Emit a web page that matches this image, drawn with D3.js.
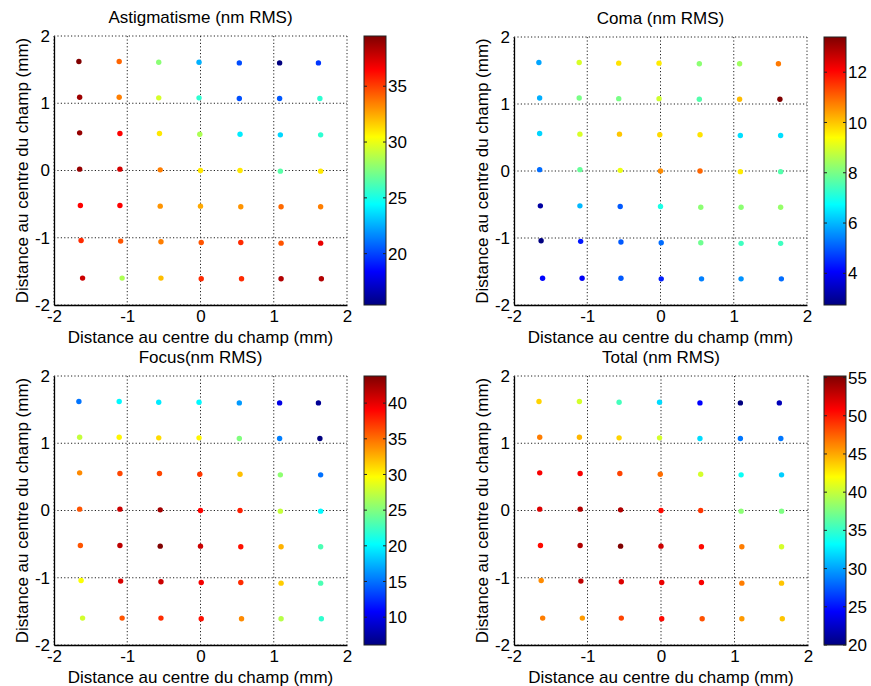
<!DOCTYPE html>
<html><head><meta charset="utf-8">
<script src="https://cdn.jsdelivr.net/npm/d3@7"></script>
<style>body{margin:0;background:#fff}svg{display:block}text{font-family:"Liberation Sans",Arial,sans-serif;fill:#000}</style>
</head><body><svg id="c" width="871" height="686"></svg>
<script>
// Field positions (mm), 7 rows (top->bottom) x 7 columns (left->right)
const gridX = [
  [-1.66,-1.11,-0.57,-0.02,0.53,1.08,1.61],
  [-1.65,-1.11,-0.57,-0.02,0.53,1.08,1.63],
  [-1.65,-1.10,-0.56,-0.01,0.54,1.09,1.64],
  [-1.65,-1.10,-0.55,0.00,0.54,1.09,1.64],
  [-1.64,-1.10,-0.55,0.00,0.55,1.10,1.64],
  [-1.63,-1.09,-0.54,0.01,0.55,1.10,1.64],
  [-1.61,-1.07,-0.54,0.01,0.56,1.10,1.65]
];
const gridY = [
  [1.62,1.62,1.61,1.61,1.60,1.60,1.60],
  [1.09,1.09,1.08,1.08,1.07,1.07,1.07],
  [0.56,0.55,0.55,0.54,0.54,0.53,0.53],
  [0.02,0.02,0.01,0.00,0.00,-0.01,-0.01],
  [-0.52,-0.52,-0.53,-0.53,-0.54,-0.54,-0.54],
  [-1.04,-1.05,-1.06,-1.07,-1.07,-1.08,-1.08],
  [-1.60,-1.60,-1.60,-1.61,-1.61,-1.61,-1.61]
];
const astigmatisme = [
  [39.5,34.1,27.7,22.6,20.2,15.4,19.7],
  [38.8,33.5,29.5,25.5,20.3,20.5,25.5],
  [39.0,36.5,31.0,28.5,24.0,23.5,25.5],
  [39.0,37.5,33.5,31.0,31.0,26.5,31.0],
  [36.5,36.5,33.0,32.5,33.0,34.0,33.5],
  [35.5,34.5,33.5,34.5,35.5,34.5,37.0],
  [37.7,28.5,32.0,35.5,35.5,38.3,38.3]
];
const coma = [
  [5.8,9.0,9.7,9.6,8.2,8.4,10.8],
  [5.9,8.0,8.0,8.9,7.6,10.1,13.4],
  [6.3,9.0,10.0,9.8,9.7,6.4,6.4],
  [5.2,7.8,9.2,10.6,11.0,9.6,7.6],
  [3.1,6.0,5.0,7.0,8.2,8.2,8.3],
  [2.74,4.3,5.0,5.2,7.9,7.4,7.4],
  [4.1,4.0,5.0,4.4,5.4,5.6,5.2]
];
const focus = [
  [15.1,20.0,19.5,20.0,16.5,9.9,6.9],
  [27.5,30.0,31.0,30.0,25.0,15.5,6.1],
  [34.0,36.5,36.5,37.0,32.0,25.5,15.0],
  [36.0,41.0,42.5,39.0,38.0,27.5,20.0],
  [36.0,41.5,43.8,41.0,38.5,32.5,23.0],
  [29.5,40.5,41.0,39.5,37.5,31.5,23.0],
  [28.0,36.0,37.5,38.5,34.0,27.0,22.0]
];
const total = [
  [43.5,40.5,35.5,32.0,24.4,20.0,22.0],
  [46.5,44.5,43.5,40.5,32.0,28.5,28.5],
  [51.0,51.0,48.5,47.0,40.5,33.5,31.5],
  [52.0,53.5,53.5,50.5,49.0,38.0,37.5],
  [50.5,53.5,55.2,52.5,50.5,46.5,40.5],
  [46.0,53.0,52.0,51.5,51.0,46.5,44.0],
  [46.5,45.5,48.5,50.5,48.0,45.5,44.0]
];
const titles = ["Astigmatisme (nm RMS)","Coma (nm RMS)","Focus(nm RMS)","Total (nm RMS)"];
const axisTicks = [-2,-1,0,1,2];
const cbTicksAstig = [20,25,30,35];
const cbTicksComa = [4,6,8,10,12];
const cbTicksFocus = [10,15,20,25,30,35,40];
const cbTicksTotal = [20,25,30,35,40,45,50,55];
const xLabel = "Distance au centre du champ (mm)";
const yLabel = "Distance au centre du champ (mm)";

const panels = [
  {data: astigmatisme, title: titles[0], cbTicks: cbTicksAstig, x0:54, y0:36, w:293, h:269, cbx:364},
  {data: coma, title: titles[1], cbTicks: cbTicksComa, x0:514, y0:37, w:293, h:268, cbx:824},
  {data: focus, title: titles[2], cbTicks: cbTicksFocus, x0:54, y0:376, w:293, h:269, cbx:364},
  {data: total, title: titles[3], cbTicks: cbTicksTotal, x0:514, y0:376, w:294, h:269, cbx:824}
];

function jet(t){
  t = Math.max(0, Math.min(1, t));
  const c = v => Math.round(255*Math.max(0, Math.min(1, v)));
  return `rgb(${c(1.5-Math.abs(4*t-3))},${c(1.5-Math.abs(4*t-2))},${c(1.5-Math.abs(4*t-1))})`;
}

const svg = d3.select("#c");
const defs = svg.append("defs");
const grad = defs.append("linearGradient").attr("id","jetgrad")
  .attr("x1","0").attr("y1","1").attr("x2","0").attr("y2","0");
d3.range(0,65).forEach(i => grad.append("stop").attr("offset", i/64).attr("stop-color", jet(i/64)));

panels.forEach(p => {
  const g = svg.append("g");
  const x = d3.scaleLinear().domain([-2,2]).range([p.x0, p.x0+p.w]);
  const y = d3.scaleLinear().domain([-2,2]).range([p.y0+p.h, p.y0]);
  const pts = [];
  p.data.forEach((row,i) => row.forEach((v,j) => pts.push({x:gridX[i][j], y:gridY[i][j], v})));
  const ext = d3.extent(pts, d => d.v);
  const color = d3.scaleSequential(jet).domain(ext);

  // grid
  axisTicks.forEach(t => {
    g.append("line").attr("x1",x(t)).attr("x2",x(t)).attr("y1",p.y0).attr("y2",p.y0+p.h)
      .attr("stroke","#222").attr("stroke-width",1).attr("stroke-dasharray","1.2,2.2");
    g.append("line").attr("y1",y(t)).attr("y2",y(t)).attr("x1",p.x0).attr("x2",p.x0+p.w)
      .attr("stroke","#222").attr("stroke-width",1).attr("stroke-dasharray","1.2,2.2");
  });
  // axes
  const ax = g.append("g").attr("transform",`translate(0,${p.y0+p.h})`)
    .call(d3.axisBottom(x).tickValues(axisTicks).tickSize(0).tickPadding(5).tickFormat(d3.format("d")));
  const ay = g.append("g").attr("transform",`translate(${p.x0},0)`)
    .call(d3.axisLeft(y).tickValues(axisTicks).tickSize(0).tickPadding(4).tickFormat(d3.format("d")));
  [ax, ay].forEach(a => {
    a.select(".domain").attr("stroke","#000").attr("stroke-width",1.3);
    a.selectAll("text").style("font-size","17px").attr("fill","#000")
      .style("font-family","'Liberation Sans',Arial,sans-serif").text(d => d < 0 ? "-" + Math.abs(d) : d);
  });
  ax.selectAll("text").attr("dy","0.71em");

  // points
  g.selectAll("circle.pt").data(pts).join("circle").attr("class","pt")
    .attr("cx", d => x(d.x)).attr("cy", d => y(d.y)).attr("r", 2.7)
    .attr("fill", d => color(d.v));

  // title and labels
  g.append("text").attr("x", p.x0+p.w/2).attr("y", p.y0-13).attr("text-anchor","middle")
    .style("font-size","17px").text(p.title);
  g.append("text").attr("x", p.x0+p.w/2).attr("y", p.y0+p.h+37.5).attr("text-anchor","middle")
    .style("font-size","17px").text(xLabel);
  g.append("text").attr("transform",`translate(${p.x0-26},${p.y0+p.h/2}) rotate(-90)`)
    .attr("text-anchor","middle").style("font-size","17px").text(yLabel);

  // colorbar
  const cbw = 22;
  const cy = d3.scaleLinear().domain(ext).range([p.y0+p.h, p.y0]);
  g.append("rect").attr("x",p.cbx).attr("y",p.y0).attr("width",cbw).attr("height",p.h)
    .attr("fill","url(#jetgrad)").attr("stroke","#222").attr("stroke-width",1);
  p.cbTicks.forEach(t => {
    const yy = cy(t);
    g.append("line").attr("x1",p.cbx).attr("x2",p.cbx+3).attr("y1",yy).attr("y2",yy).attr("stroke","#222");
    g.append("line").attr("x1",p.cbx+cbw-3).attr("x2",p.cbx+cbw).attr("y1",yy).attr("y2",yy).attr("stroke","#222");
    g.append("text").attr("x",p.cbx+cbw+2).attr("y",yy).attr("dy","0.36em")
      .style("font-size","17px").text(t);
  });
});
</script>
</body></html>
